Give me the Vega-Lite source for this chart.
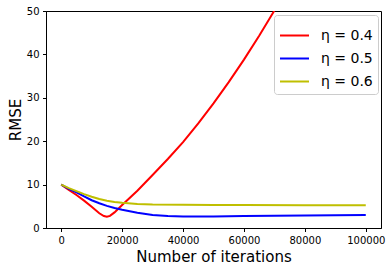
{
  "$schema": "https://vega.github.io/schema/vega-lite/v6.json",
  "width": 335,
  "height": 217,
  "autosize": {"type": "none"},
  "padding": {"left": 46, "top": 11, "right": 10, "bottom": 43},
  "background": "white",
  "config": {
    "font": "DejaVu Sans",
    "view": {"stroke": "black", "strokeWidth": 1},
    "axis": {
      "grid": false,
      "domainColor": "black",
      "tickColor": "black",
      "tickSize": 3.5,
      "labelFontSize": 10,
      "labelColor": "black",
      "labelPadding": 3.5,
      "titleFontSize": 15,
      "titleFontWeight": "normal",
      "titleColor": "black"
    }
  },
  "data": {
    "values": [
      {"x": 0, "rmse": 10.0, "eta": "η = 0.4"},
      {"x": 2500, "rmse": 8.8, "eta": "η = 0.4"},
      {"x": 5000, "rmse": 7.6, "eta": "η = 0.4"},
      {"x": 7500, "rmse": 6.3, "eta": "η = 0.4"},
      {"x": 10000, "rmse": 4.9, "eta": "η = 0.4"},
      {"x": 12500, "rmse": 3.4, "eta": "η = 0.4"},
      {"x": 14000, "rmse": 2.75, "eta": "η = 0.4"},
      {"x": 15000, "rmse": 2.6, "eta": "η = 0.4"},
      {"x": 16000, "rmse": 2.8, "eta": "η = 0.4"},
      {"x": 17500, "rmse": 3.6, "eta": "η = 0.4"},
      {"x": 20000, "rmse": 5.3, "eta": "η = 0.4"},
      {"x": 25000, "rmse": 8.6, "eta": "η = 0.4"},
      {"x": 30000, "rmse": 12.2, "eta": "η = 0.4"},
      {"x": 35000, "rmse": 15.9, "eta": "η = 0.4"},
      {"x": 40000, "rmse": 19.8, "eta": "η = 0.4"},
      {"x": 45000, "rmse": 24.1, "eta": "η = 0.4"},
      {"x": 50000, "rmse": 28.7, "eta": "η = 0.4"},
      {"x": 55000, "rmse": 33.6, "eta": "η = 0.4"},
      {"x": 60000, "rmse": 38.8, "eta": "η = 0.4"},
      {"x": 65000, "rmse": 44.3, "eta": "η = 0.4"},
      {"x": 70000, "rmse": 50.1, "eta": "η = 0.4"},
      {"x": 75000, "rmse": 56.0, "eta": "η = 0.4"},
      {"x": 0, "rmse": 10.0, "eta": "η = 0.5"},
      {"x": 2500, "rmse": 9.0, "eta": "η = 0.5"},
      {"x": 5000, "rmse": 8.2, "eta": "η = 0.5"},
      {"x": 7500, "rmse": 7.3, "eta": "η = 0.5"},
      {"x": 10000, "rmse": 6.4, "eta": "η = 0.5"},
      {"x": 12500, "rmse": 5.7, "eta": "η = 0.5"},
      {"x": 15000, "rmse": 5.1, "eta": "η = 0.5"},
      {"x": 17500, "rmse": 4.6, "eta": "η = 0.5"},
      {"x": 20000, "rmse": 4.2, "eta": "η = 0.5"},
      {"x": 25000, "rmse": 3.5, "eta": "η = 0.5"},
      {"x": 30000, "rmse": 3.0, "eta": "η = 0.5"},
      {"x": 35000, "rmse": 2.75, "eta": "η = 0.5"},
      {"x": 40000, "rmse": 2.65, "eta": "η = 0.5"},
      {"x": 50000, "rmse": 2.65, "eta": "η = 0.5"},
      {"x": 60000, "rmse": 2.75, "eta": "η = 0.5"},
      {"x": 70000, "rmse": 2.85, "eta": "η = 0.5"},
      {"x": 80000, "rmse": 2.9, "eta": "η = 0.5"},
      {"x": 90000, "rmse": 2.95, "eta": "η = 0.5"},
      {"x": 100000, "rmse": 3.0, "eta": "η = 0.5"},
      {"x": 0, "rmse": 10.0, "eta": "η = 0.6"},
      {"x": 2500, "rmse": 9.2, "eta": "η = 0.6"},
      {"x": 5000, "rmse": 8.5, "eta": "η = 0.6"},
      {"x": 7500, "rmse": 7.8, "eta": "η = 0.6"},
      {"x": 10000, "rmse": 7.2, "eta": "η = 0.6"},
      {"x": 12500, "rmse": 6.7, "eta": "η = 0.6"},
      {"x": 15000, "rmse": 6.3, "eta": "η = 0.6"},
      {"x": 17500, "rmse": 6.0, "eta": "η = 0.6"},
      {"x": 20000, "rmse": 5.8, "eta": "η = 0.6"},
      {"x": 25000, "rmse": 5.55, "eta": "η = 0.6"},
      {"x": 30000, "rmse": 5.42, "eta": "η = 0.6"},
      {"x": 40000, "rmse": 5.33, "eta": "η = 0.6"},
      {"x": 50000, "rmse": 5.3, "eta": "η = 0.6"},
      {"x": 60000, "rmse": 5.28, "eta": "η = 0.6"},
      {"x": 80000, "rmse": 5.27, "eta": "η = 0.6"},
      {"x": 100000, "rmse": 5.27, "eta": "η = 0.6"}
    ]
  },
  "mark": {"type": "line", "strokeWidth": 2, "clip": true},
  "encoding": {
    "x": {
      "field": "x",
      "type": "quantitative",
      "scale": {"domain": [-5000, 105000], "nice": false, "zero": false},
      "axis": {"values": [0, 20000, 40000, 60000, 80000, 100000], "format": "d", "title": "Number of iterations", "titlePadding": 4}
    },
    "y": {
      "field": "rmse",
      "type": "quantitative",
      "scale": {"domain": [0, 50], "nice": false},
      "axis": {"values": [0, 10, 20, 30, 40, 50], "title": "RMSE", "titlePadding": 3}
    },
    "color": {
      "field": "eta",
      "type": "nominal",
      "scale": {"domain": ["η = 0.4", "η = 0.5", "η = 0.6"], "range": ["#ff0000", "#0000ff", "#bfbf00"]},
      "legend": {
        "title": null,
        "orient": "none",
        "legendX": 228,
        "legendY": 4,
        "symbolType": "stroke",
        "symbolSize": 841,
        "symbolStrokeWidth": 2,
        "labelFontSize": 14,
        "labelColor": "black",
        "labelOffset": 11,
        "rowPadding": 0,
        "padding": 5,
        "strokeColor": "#cccccc",
        "fillColor": "white",
        "cornerRadius": 3
      }
    }
  }
}
